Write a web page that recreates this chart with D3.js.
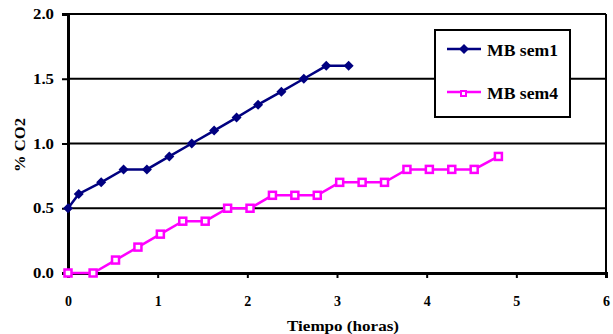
<!DOCTYPE html>
<html>
<head>
<meta charset="utf-8">
<script src="https://d3js.org/d3.v7.min.js"></script>
<style>
  html, body { margin: 0; padding: 0; background: #fff; }
  svg { display: block; }
</style>
</head>
<body>
<svg id="chart" width="613" height="334"></svg>
<script>
// Hours since start and CO2 percentage for each series
const sem1Time = [0, 0.12, 0.37, 0.62, 0.88, 1.13, 1.38, 1.63, 1.88, 2.12, 2.38, 2.63, 2.88, 3.13];
const sem1CO2  = [0.5, 0.61, 0.7, 0.8, 0.8, 0.9, 1.0, 1.1, 1.2, 1.3, 1.4, 1.5, 1.6, 1.6];

const sem4Time = [0, 0.28, 0.53, 0.78, 1.03, 1.28, 1.53, 1.78, 2.03, 2.28, 2.53, 2.78, 3.03, 3.28, 3.53, 3.78, 4.03, 4.28, 4.53, 4.8];
const sem4CO2  = [0, 0, 0.1, 0.2, 0.3, 0.4, 0.4, 0.5, 0.5, 0.6, 0.6, 0.6, 0.7, 0.7, 0.7, 0.8, 0.8, 0.8, 0.8, 0.9];

const seriesNames = ["MB sem1", "MB sem4"];
const xTicks = [0, 1, 2, 3, 4, 5, 6];
const yTicks = [0, 0.5, 1.0, 1.5, 2.0];
const xTitle = "Tiempo (horas)";
const yTitle = "% CO2";

const FONT = '"Liberation Serif", "Times New Roman", serif';
const svg = d3.select("#chart");
const plotL = 68, plotR = 606, plotT = 14, plotB = 273;

const x = d3.scaleLinear().domain([0, 6]).range([plotL, plotR]);
const y = d3.scaleLinear().domain([0, 2]).range([plotB, plotT]);

function styleText(sel, size) {
  return sel.style("font-family", FONT).style("font-weight", "bold")
    .style("font-size", size + "px").attr("fill", "#000");
}

// horizontal gridlines
svg.append("g").selectAll("line").data(yTicks.filter(d => d > 0)).join("line")
  .attr("x1", plotL).attr("x2", plotR)
  .attr("y1", d => y(d)).attr("y2", d => y(d))
  .attr("stroke", "#000").attr("stroke-width", 2);

// right border
svg.append("line").attr("x1", plotR).attr("x2", plotR).attr("y1", plotT).attr("y2", plotB)
  .attr("stroke", "#000").attr("stroke-width", 2);

// x axis
const xAxis = svg.append("g").attr("transform", `translate(0,${plotB})`)
  .call(d3.axisBottom(x).tickValues(xTicks).tickFormat(d3.format("d")).tickSize(5).tickPadding(28));
xAxis.select(".domain").attr("stroke-width", 3);
xAxis.selectAll(".tick line").attr("stroke-width", 2);
styleText(xAxis.selectAll(".tick text"), 14).attr("dy", "0");

// y axis
const yAxis = svg.append("g").attr("transform", `translate(${plotL},0)`)
  .call(d3.axisLeft(y).tickValues(yTicks).tickFormat(d3.format(".1f")).tickSize(6).tickPadding(8));
yAxis.select(".domain").attr("stroke-width", 3);
yAxis.selectAll(".tick line").attr("stroke-width", 2);
styleText(yAxis.selectAll(".tick text"), 14).attr("dy", "0.33em")
  .attr("textLength", 21).attr("lengthAdjust", "spacingAndGlyphs");

// axis titles
styleText(svg.append("text"), 15).attr("x", 343).attr("y", 331).attr("text-anchor", "middle")
  .attr("textLength", 112).attr("lengthAdjust", "spacingAndGlyphs")
  .text(xTitle);
styleText(svg.append("text"), 15).attr("transform", "translate(25,145) rotate(-90)").attr("text-anchor", "middle")
  .attr("textLength", 54).attr("lengthAdjust", "spacingAndGlyphs")
  .text(yTitle);

const navy = "#000080", magenta = "#FF00FF";
const line = d3.line().x(d => x(d[0])).y(d => y(d[1]));
const sem1 = d3.zip(sem1Time, sem1CO2);
const sem4 = d3.zip(sem4Time, sem4CO2);

svg.append("path").datum(sem4).attr("d", line)
  .attr("fill", "none").attr("stroke", magenta).attr("stroke-width", 2.5);
svg.append("g").selectAll("rect").data(sem4).join("rect")
  .attr("x", d => x(d[0]) - 3.5).attr("y", d => y(d[1]) - 3.5)
  .attr("width", 7).attr("height", 7)
  .attr("fill", "#fff").attr("stroke", magenta).attr("stroke-width", 2.5);

svg.append("path").datum(sem1).attr("d", line)
  .attr("fill", "none").attr("stroke", navy).attr("stroke-width", 2.5);
const diamond = d3.symbol().type(d3.symbolDiamond2).size(64);
svg.append("g").selectAll("path").data(sem1).join("path")
  .attr("transform", d => `translate(${x(d[0])},${y(d[1])})`)
  .attr("d", diamond).attr("fill", navy);

// legend
const lg = svg.append("g");
lg.append("rect").attr("x", 435).attr("y", 30).attr("width", 135).attr("height", 87)
  .attr("fill", "#fff").attr("stroke", "#000").attr("stroke-width", 2);
const rows = [49, 92];
lg.append("line").attr("x1", 447).attr("x2", 481).attr("y1", rows[0]).attr("y2", rows[0])
  .attr("stroke", navy).attr("stroke-width", 2.5);
lg.append("path").attr("transform", `translate(464,${rows[0]})`).attr("d", diamond).attr("fill", navy);
lg.append("line").attr("x1", 447).attr("x2", 481).attr("y1", rows[1]).attr("y2", rows[1])
  .attr("stroke", magenta).attr("stroke-width", 2.5);
lg.append("rect").attr("x", 461).attr("y", rows[1] - 1).attr("width", 5).attr("height", 5)
  .attr("fill", "#fff").attr("stroke", magenta).attr("stroke-width", 2);
styleText(lg.selectAll("text.leg").data(seriesNames).join("text").attr("class", "leg"), 16)
  .attr("x", 487).attr("y", (d, i) => rows[i] + 7)
  .attr("textLength", 71).attr("lengthAdjust", "spacingAndGlyphs")
  .text(d => d);
</script>
</body>
</html>
